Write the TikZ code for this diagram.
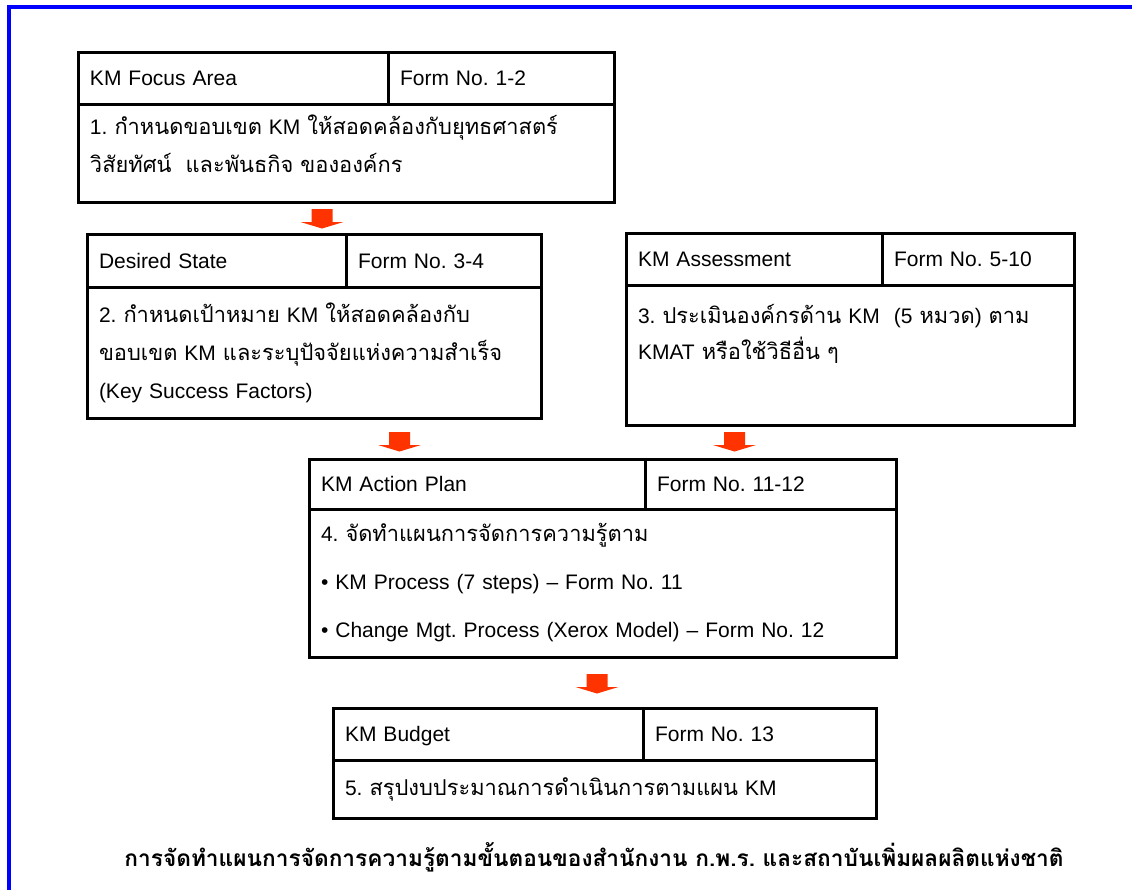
\documentclass[tikz,border=0pt]{standalone}
\usepackage{fontspec}
\setmainfont{Liberation Sans}
\newfontfamily\thaifont[Script=Thai, Scale=1.04]{Loma}
\usetikzlibrary{positioning}
\frenchspacing
\definecolor{frameblue}{RGB}{0,0,255}
\definecolor{steporange}{RGB}{255,51,0}
\newcommand{\tha}[1]{{\thaifont #1}}
\tikzstyle{cell}=[draw, line width=1.5pt, outer sep=0pt, inner xsep=6pt, inner ysep=2pt, align=left, font=\fontsize{10.5}{12.6}\selectfont]
\tikzstyle{head}=[cell, text height=8.5pt, text depth=1pt]
\tikzstyle{body}=[cell, font=\fontsize{10.5}{19}\selectfont]
\tikzset{flow/.pic={\fill[steporange] (-10.5,0) -- (10.5,0) -- (10.5,13) -- (21.5,13) -- (0,19.5) -- (-21.5,13) -- (-10.5,13) -- cycle;}}

\begin{document}
\begin{tikzpicture}[x=0.5pt, y=-0.5pt]
    \useasboundingbox (0,0) rectangle (1132,890);
    \draw[frameblue, line width=2pt] (9,900) |- (1140,7);

    % step 1
    \node[head, anchor=north west, text width=143pt, minimum height=26pt] (focus) at (78,52) {KM Focus Area};
    \node[head, text width=101pt, minimum height=26pt] (focusform) [right=0pt of focus] {Form No. 1-2};
    \node[body, text width=256pt, minimum height=49pt] (focusbody) [below right=0pt and 0pt of focus.south west]
        {1. \tha{กำหนดขอบเขต} KM \tha{ให้สอดคล้องกับยุทธศาสตร์}\\ \tha{วิสัยทัศน์\ \ และพันธกิจ ขององค์กร}\\[-10pt]\mbox{}};

    % step 2
    \node[head, anchor=north west, text width=117.5pt, minimum height=26.5pt] (desired) at (87,234) {Desired State};
    \node[head, text width=85.5pt, minimum height=26.5pt] (desiredform) [right=0pt of desired] {Form No. 3-4};
    \node[body, text width=215pt, minimum height=65.5pt] (desiredbody) [below right=0pt and 0pt of desired.south west]
        {2. \tha{กำหนดเป้าหมาย} KM \tha{ให้สอดคล้องกับ}\\ \tha{ขอบเขต} KM \tha{และระบุปัจจัยแห่งความสำเร็จ}\\ (Key Success Factors)};

    % step 3
    \node[head, anchor=north west, text width=116pt, minimum height=26pt] (assess) at (626,233) {KM Assessment};
    \node[head, text width=84pt, minimum height=26pt] (assessform) [right=0pt of assess] {Form No. 5-10};
    \node[body, text width=212pt, minimum height=70pt, font=\fontsize{10.5}{18}\selectfont] (assessbody) [below right=0pt and 0pt of assess.south west]
        {3. \tha{ประเมินองค์กรด้าน} KM\ \ (5 \tha{หมวด}) \tha{ตาม}\\ KMAT \tha{หรือใช้วิธีอื่น ๆ}\\ \strut};

    % step 4
    \node[head, anchor=north west, text width=156pt, minimum height=25pt] (plan) at (309,459) {KM Action Plan};
    \node[head, text width=113.5pt, minimum height=25pt] (planform) [right=0pt of plan] {Form No. 11-12};
    \node[body, text width=281.5pt, minimum height=74pt, font=\fontsize{10.5}{24}\selectfont] (planbody) [below right=0pt and 0pt of plan.south west]
        {4. \tha{จัดทำแผนการจัดการความรู้ตาม}\\ \textbullet\ KM Process (7 steps) -- Form No. 11\\ \textbullet\ Change Mgt. Process (Xerox Model) -- Form No. 12};

    % step 5
    \node[head, anchor=north west, text width=143pt, minimum height=26pt] (budget) at (333,708) {KM Budget};
    \node[head, text width=104.5pt, minimum height=26pt] (budgetform) [right=0pt of budget] {Form No. 13};
    \node[body, text width=259.5pt, minimum height=29pt] (budgetbody) [below right=0pt and 0pt of budget.south west]
        {5. \tha{สรุปงบประมาณการดำเนินการตามแผน} KM};

    % arrows between steps
    \pic at (322,209) {flow};
    \pic at (399.5,432) {flow};
    \pic at (734.5,432) {flow};
    \pic at (597,674) {flow};

    \node[font=\fontsize{10.9}{13}\thaifont\bfseries] (caption) at (594,857)
        {การจัดทำแผนการจัดการความรู้ตามขั้นตอนของสำนักงาน ก.พ.ร. และสถาบันเพิ่มผลผลิตแห่งชาติ};
\end{tikzpicture}
\end{document}
